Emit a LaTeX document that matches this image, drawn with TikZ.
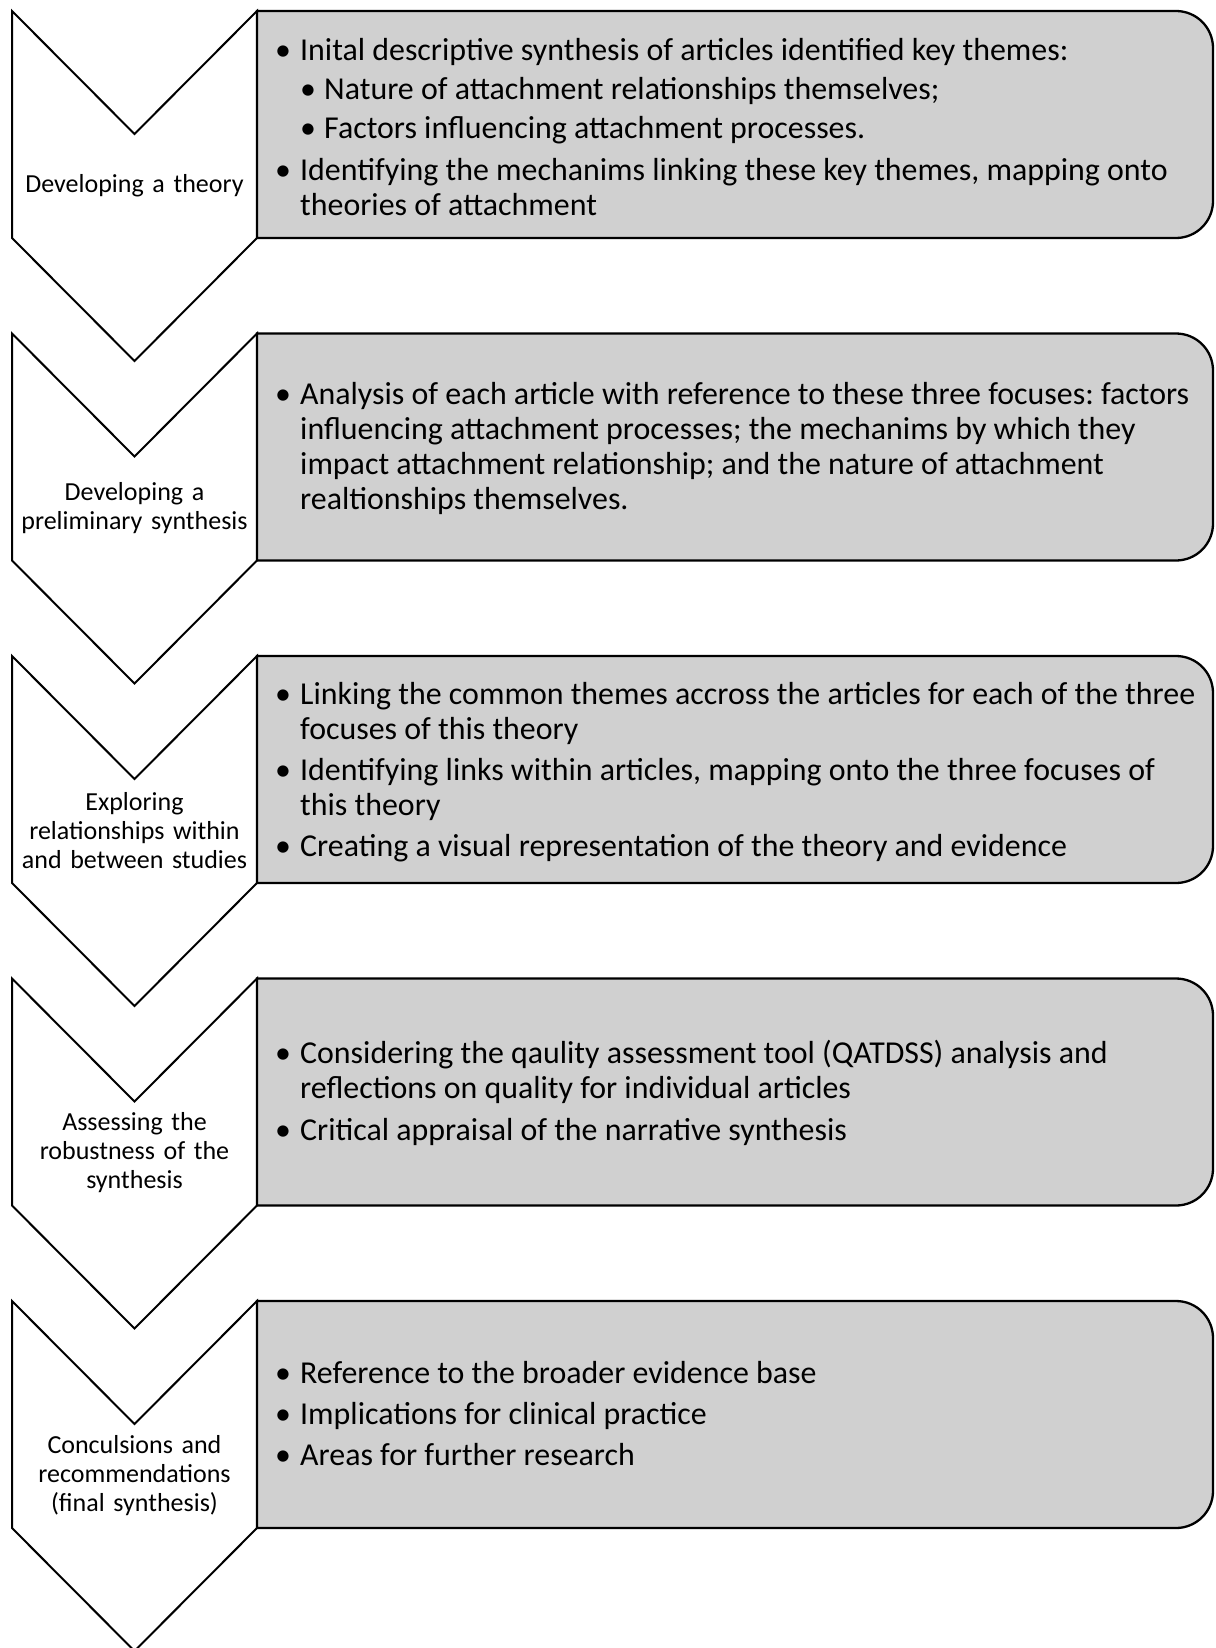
\documentclass[tikz,border=0pt]{standalone}
\usepackage{fontspec}
\setmainfont{Carlito}
\definecolor{boxgrey}{RGB}{208,208,208}
\newcommand{\bitem}[1]{\par\hangindent=25pt\hangafter=1\noindent\makebox[25pt][l]{\textbullet}#1}
\newcommand{\sbitem}[1]{\par\hangindent=49pt\hangafter=1\noindent\hspace*{25pt}\makebox[24pt][l]{\textbullet}#1}
\newcommand{\btext}[2][6pt]{\begin{minipage}[t]{980pt}\parskip=#1\relax\raggedright\frenchspacing\hyphenpenalty=10000 #2\end{minipage}}
\begin{document}
\begin{tikzpicture}[x=1pt,y=-1pt,
  chevronshape/.style={draw=black,fill=white,line width=2pt,line join=miter},
  greybox/.style={draw=black,fill=boxgrey,line width=2.3pt},
  boxtext/.style={inner sep=0pt,anchor=base west,
    font=\fontsize{31.9pt}{35pt}\selectfont},
  labeltext/.style={inner sep=0pt,text width=245pt,align=center,
    font=\fontsize{26pt}{29pt}\selectfont}]
\useasboundingbox (0,0) rectangle (1215,1648);
\fill[white] (0,0) rectangle (1215,1648);
\foreach \t in {11,333.5,656,978.5,1301}{
  \draw[chevronshape] (12,\t) -- (134.5,\t+123) -- (257,\t) -- (257,\t+227)
     -- (134.5,\t+350) -- (12,\t+227) -- cycle;
  \draw[greybox] (257,\t) -- (1176,\t) arc[start angle=-90,end angle=0,radius=37]
     -- (1213,\t+190) arc[start angle=0,end angle=90,radius=37]
     -- (257,\t+227) -- cycle;
}
% labels
\node[labeltext] (l1) at (134.5,186) {Developing a theory};
\node[labeltext] (l2) at (134.5,508) {Developing a\\preliminary synthesis};
\node[labeltext] (l3) at (134.5,830.5) {Exploring\\relationships within\\and between studies};
\node[labeltext] (l4) at (134.5,1153) {Assessing the\\robustness of the\\synthesis};
\node[labeltext] (l5) at (134.5,1475.5) {Conculsions and\\recommendations\\(final synthesis)};
% box texts
\node[boxtext] (b1) at (275,60.5) {\btext[4pt]{%
\bitem{Inital descriptive synthesis of articles identified key themes:}
\sbitem{Nature of attachment relationships themselves;}
\sbitem{Factors influencing attachment processes.}\par\vspace{3pt}
\bitem{Identifying the mechanims linking these key themes, mapping onto\newline theories of attachment}}};
\node[boxtext] (b2) at (275,404) {\btext{%
\bitem{Analysis of each article with reference to these three focuses: factors\newline influencing attachment processes; the mechanims by which they\newline impact attachment relationship; and the nature of attachment\newline realtionships themselves.}}};
\node[boxtext] (b3) at (275,704) {\btext{%
\bitem{Linking the common themes accross the articles for each of the three\newline focuses of this theory}
\bitem{Identifying links within articles, mapping onto the three focuses of\newline this theory}
\bitem{Creating a visual representation of the theory and evidence}}};
\node[boxtext] (b4) at (275,1063.5) {\btext[7pt]{%
\bitem{Considering the qaulity assessment tool (QATDSS) analysis and\newline reflections on quality for individual articles}
\bitem{Critical appraisal of the narrative synthesis}}};
\node[boxtext] (b5) at (275,1383.5) {\btext{%
\bitem{Reference to the broader evidence base}
\bitem{Implications for clinical practice}
\bitem{Areas for further research}}};
\end{tikzpicture}
\end{document}
